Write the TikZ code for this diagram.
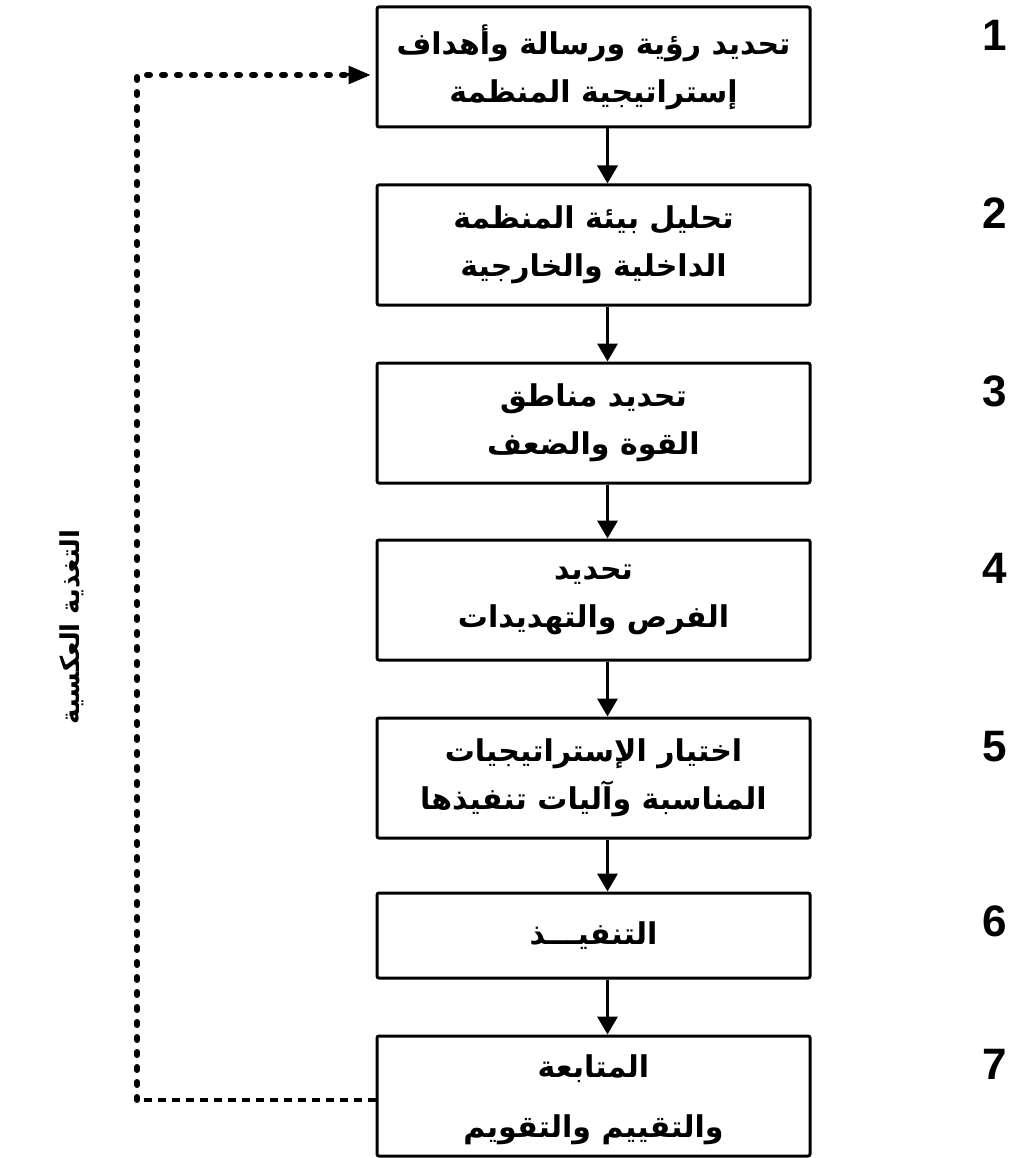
\documentclass[tikz,border=0pt]{standalone}
\usepackage{fontspec}
\setmainfont{Liberation Sans}
\newfontfamily\arabicfont[Script=Arabic]{DejaVu Sans}
\TeXXeTstate=1
\usetikzlibrary{arrows.meta}

\tikzset{
	stage/.style={draw, line width=3pt, rounded corners=2pt, minimum width=433pt, minimum height=120pt, inner sep=0pt, align=center, font={\arabicfont\bfseries\fontsize{30pt}{48pt}\selectfont}},
	stagenum/.style={font={\bfseries\fontsize{44pt}{44pt}\selectfont}},
	flow/.style={line width=3.5pt, -{Triangle[width=20pt,length=18pt]}},
	loopdots/.style={line width=6pt, line cap=round, dash pattern=on 3pt off 12pt},
	loopdash/.style={line width=4pt, dash pattern=on 8pt off 6pt},
}

\begin{document}
\begin{tikzpicture}[x=1pt, y=-1pt]
	\useasboundingbox (0,0) rectangle (1015,1158);
	% stages
	\node[stage] (b1) at (593.5,67) {\beginR تحديد رؤية ورسالة وأهداف\endR\\\beginR إستراتيجية المنظمة\endR};
	\node[stage] (b2) at (593.5,245) {\beginR تحليل بيئة المنظمة\endR\\\beginR الداخلية والخارجية\endR};
	\node[stage] (b3) at (593.5,423) {\beginR تحديد مناطق\endR\\\beginR القوة والضعف\endR};
	\node[stage] (b4) at (593.5,600) {\beginR تحديد\endR\\\beginR الفرص والتهديدات\endR};
	\node[stage] (b5) at (593.5,778) {\beginR اختيار الإستراتيجيات\endR\\\beginR المناسبة وآليات تنفيذها\endR};
	\node[stage, minimum height=85pt] (b6) at (593.5,935.5) {\beginR التنفيـــذ\endR};
	\node[stage, text depth=-12pt] (b7) at (593.5,1096) {\beginR المتابعة\endR\\[12pt]\beginR والتقييم والتقويم\endR};
	% step numbers
	\coordinate (numcol) at (995,0);
	\foreach \i in {1,...,7} {
		\node[stagenum] (n\i) at ([yshift=-30pt]b\i.north -| numcol) {\i};
	}
	% arrows between stages
	\foreach \a/\b in {b1/b2, b2/b3, b3/b4, b4/b5, b5/b6, b6/b7} {
		\draw[flow] ([xshift=14pt]\a.south) -- ([xshift=14pt]\b.north);
	}
	% feedback loop
	\coordinate (fbtop) at (137,75);
	\coordinate (fbbot) at (137,1100);
	\draw[loopdash] (fbbot -| b7.west) -- (fbbot);
	\draw[loopdots] (fbbot) -- (fbtop) -- ([xshift=-30pt]fbtop -| b1.west);
	\draw[-{Triangle[width=18pt,length=22pt]}, line width=3pt] ([xshift=-30pt]fbtop -| b1.west) -- ([xshift=-5pt]fbtop -| b1.west);
	\node[rotate=90, font={\arabicfont\bfseries\fontsize{26pt}{26pt}\selectfont}] (fb) at (72,627) {\beginR التغذية العكسية\endR};
\end{tikzpicture}
\end{document}
